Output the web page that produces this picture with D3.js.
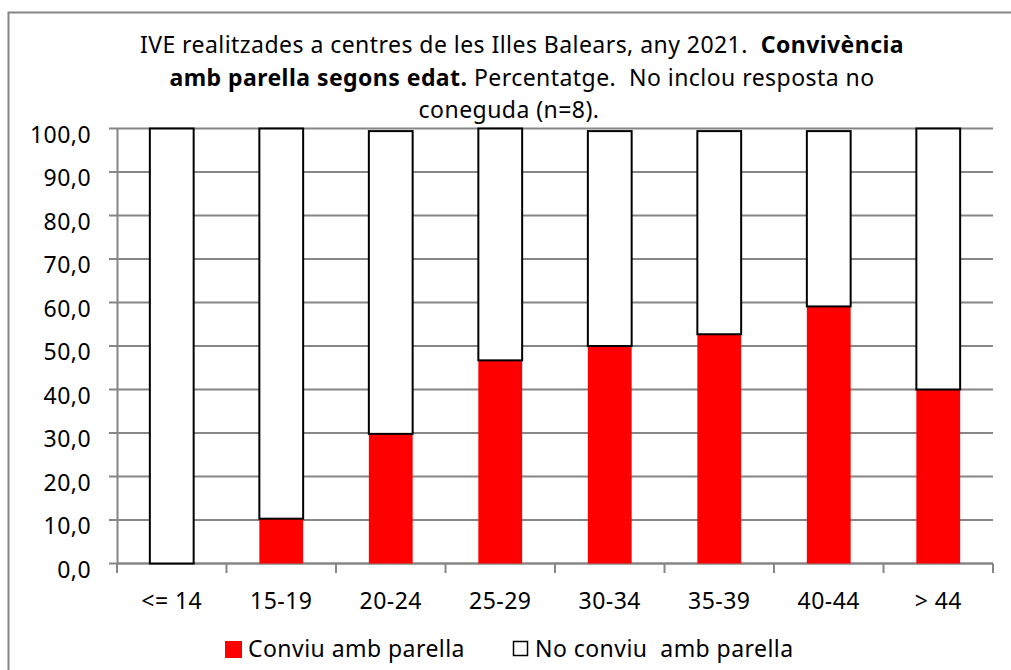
<!DOCTYPE html>
<html>
<head>
<meta charset="utf-8">
<script src="https://cdn.jsdelivr.net/npm/d3@7"></script>
<style>
  body { margin: 0; background: #fff; }
  svg { display: block; font-family: "Noto Sans", sans-serif; letter-spacing: 0.45px; }
</style>
</head>
<body>
<div id="d3container"></div>
<script>
var categories = ['<= 14', '15-19', '20-24', '25-29', '30-34', '35-39', '40-44', '> 44'];
var conviu = [0, 10.3, 29.8, 46.7, 50.0, 52.7, 59.1, 40.0];
var noConviu = [100, 89.7, 69.6, 53.3, 49.4, 46.7, 40.3, 60.0];
var yTicks = [0, 10, 20, 30, 40, 50, 60, 70, 80, 90, 100];
var seriesNames = ['Conviu amb parella', 'No conviu  amb parella'];

var width = 1011;
var height = 670;
var fontSize = 23;

var svg = d3.select('#d3container')
    .append('svg')
    .attr('width', width)
    .attr('height', height);

// outer chart frame
svg.append('rect')
    .attr('x', 8.5).attr('y', 12.5)
    .attr('width', 1100).attr('height', 800)
    .attr('fill', '#fff')
    .attr('stroke', '#868686')
    .attr('stroke-width', 2);

var x = d3.scaleBand()
    .domain(categories)
    .range([117, 993])
    .paddingInner(0.6)
    .paddingOuter(0.3);

var y = d3.scaleLinear()
    .domain([0, 100])
    .range([563.5, 128.5]);

// gridlines
svg.append('g').selectAll('line')
    .data(yTicks)
    .enter().append('line')
    .attr('x1', 109).attr('x2', 993)
    .attr('y1', function (d) { return y(d); })
    .attr('y2', function (d) { return y(d); })
    .attr('stroke', '#868686')
    .attr('stroke-width', 2);

// y axis
var yAxis = d3.axisLeft(y).tickValues(yTicks).tickSize(0).tickPadding(26)
    .tickFormat(function (d) { return d3.format('.1f')(d).replace('.', ','); });
var yg = svg.append('g').attr('transform', 'translate(117,0)').call(yAxis);
yg.select('.domain').attr('stroke', '#868686').attr('stroke-width', 2);
yg.selectAll('text').attr('font-size', fontSize).attr('fill', '#000').attr('dy', '0.6em')
    .attr('font-family', '"Noto Sans", sans-serif');

// x axis ticks at category boundaries
var bounds = categories.map(function (c) { return x(c) - x.step() * x.paddingInner() / 2; });
bounds.push(993);
svg.append('g').selectAll('line')
    .data(bounds)
    .enter().append('line')
    .attr('x1', function (d) { return d; })
    .attr('x2', function (d) { return d; })
    .attr('y1', 563.5).attr('y2', 573)
    .attr('stroke', '#868686')
    .attr('stroke-width', 2);
svg.append('line')
    .attr('x1', 117).attr('x2', 993)
    .attr('y1', 563.5).attr('y2', 563.5)
    .attr('stroke', '#868686')
    .attr('stroke-width', 2);

svg.append('g').selectAll('text')
    .data(categories)
    .enter().append('text')
    .attr('x', function (d) { return x(d) + x.bandwidth() / 2; })
    .attr('y', 609)
    .attr('text-anchor', 'middle')
    .attr('font-size', fontSize)
    .text(function (d) { return d; });

// bars
svg.append('g').selectAll('rect')
    .data(categories)
    .enter().append('rect')
    .attr('x', function (d) { return x(d); })
    .attr('width', x.bandwidth())
    .attr('y', function (d, i) { return y(conviu[i]); })
    .attr('height', function (d, i) { return y(0) - y(conviu[i]); })
    .attr('fill', '#ff0000');

svg.append('g').selectAll('rect')
    .data(categories)
    .enter().append('rect')
    .attr('x', function (d) { return x(d); })
    .attr('width', x.bandwidth())
    .attr('y', function (d, i) { return y(conviu[i] + noConviu[i]); })
    .attr('height', function (d, i) { return y(conviu[i]) - y(conviu[i] + noConviu[i]); })
    .attr('fill', '#fff')
    .attr('stroke', '#000')
    .attr('stroke-width', 2);

// title
var title = svg.append('text')
    .attr('text-anchor', 'middle')
    .attr('font-size', fontSize)
    .attr('fill', '#000')
    .style('white-space', 'pre');
var l1 = title.append('tspan').attr('x', 522).attr('y', 53);
l1.append('tspan').text('IVE realitzades a centres de les Illes Balears, any 2021.  ');
l1.append('tspan').attr('font-weight', 'bold').text('Convivència');
var l2 = title.append('tspan').attr('x', 522).attr('y', 86);
l2.append('tspan').attr('font-weight', 'bold').text('amb parella segons edat.');
l2.append('tspan').text(' Percentatge.  No inclou resposta no');
title.append('tspan').attr('x', 509).attr('y', 118).text('coneguda (n=8).');

// legend
var legend = svg.append('g');
legend.append('rect')
    .attr('x', 225).attr('y', 641).attr('width', 17).attr('height', 17)
    .attr('fill', '#ff0000');
legend.append('text')
    .attr('x', 248).attr('y', 657)
    .attr('font-size', fontSize)
    .style('white-space', 'pre')
    .text(seriesNames[0]);
legend.append('rect')
    .attr('x', 513.5).attr('y', 641.5).attr('width', 14).attr('height', 14)
    .attr('fill', '#fff').attr('stroke', '#000').attr('stroke-width', 1.5);
legend.append('text')
    .attr('x', 535).attr('y', 657)
    .attr('font-size', fontSize)
    .style('white-space', 'pre')
    .text(seriesNames[1]);
</script>
</body>
</html>
